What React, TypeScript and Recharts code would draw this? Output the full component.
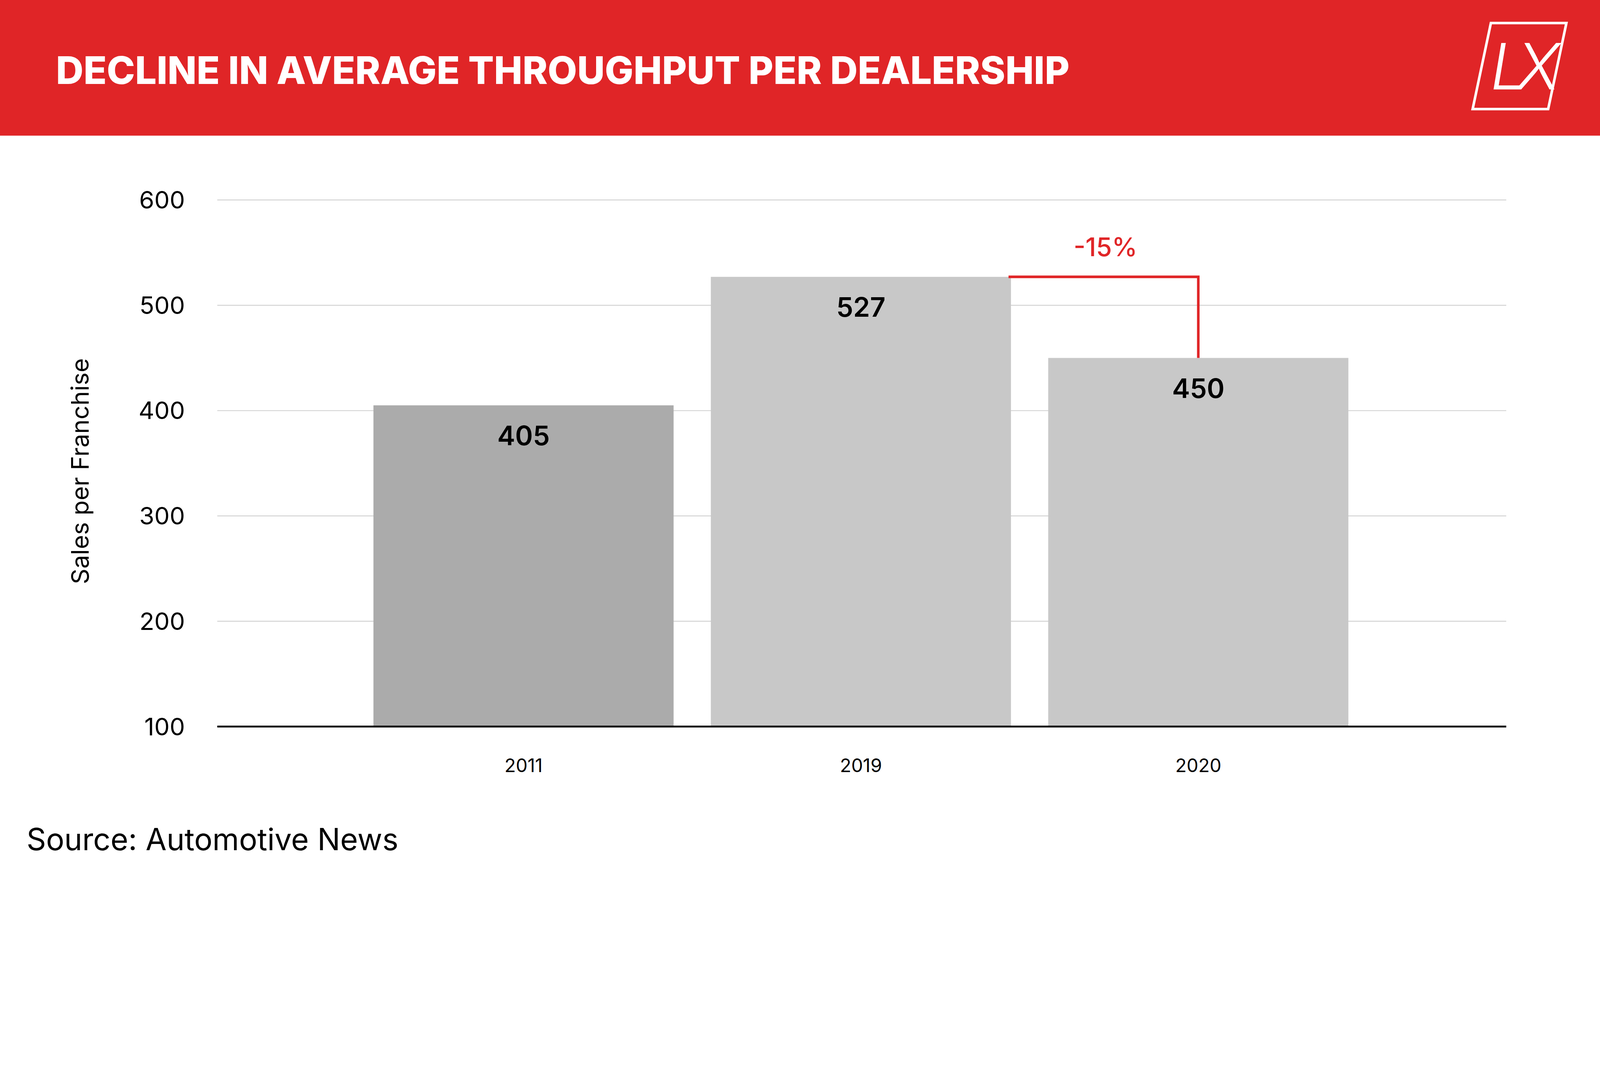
import { BarChart, Bar, XAxis, YAxis, CartesianGrid, Cell, LabelList } from 'recharts';

const years = ['2011', '2019', '2020'];
const sales = [405, 527, 450];
const barColors = ['#ababab', '#c8c8c8', '#c8c8c8'];
const yTicks = [100, 200, 300, 400, 500, 600];
const changeLabel = '-15%';

const data = years.map((year, i) => ({ year, sales: sales[i] }));
const RED = '#e02527';
const FONT = 'Inter, "Noto Sans", sans-serif';

function BarShape(props: any) {
  const { x, y, width, height, fill, index, value } = props;
  const rect = <rect x={x} y={y} width={width} height={height} fill={fill} />;
  if (index !== 2) return rect;
  // bracket from previous bar top (527) down to this bar top
  const perUnit = height / (value - 100);
  const yPrev = y - (sales[1] - value) * perUnit;
  const gap = 124;
  const cx = x + width / 2;
  return (
    <g>
      {rect}
      <polyline points={`${x - gap},${yPrev} ${cx},${yPrev} ${cx},${y}`} fill="none" stroke={RED} strokeWidth={8} />
      <text x={cx - 290} y={yPrev - 65} fill={RED} fontSize={80} fontFamily={FONT} fontWeight={500} textAnchor="middle">{changeLabel}</text>
    </g>
  );
}

export default function App() {
  const s = Math.min(1, window.innerWidth / 5000, window.innerHeight / 2727);
  return (
    <div style={{ position: 'fixed', left: 0, top: 0, width: 5000, height: 2727, background: '#fff', fontFamily: FONT, overflow: 'hidden', transform: `scale(${s})`, transformOrigin: '0 0' }}>
      <div style={{ position: 'absolute', left: 0, top: 0, width: 5000, height: 424, background: RED }} />
      <div style={{ position: 'absolute', left: 175, top: 160, color: '#fff', fontSize: 119, fontWeight: 800, lineHeight: 1, whiteSpace: 'nowrap' }}>
        DECLINE IN AVERAGE THROUGHPUT PER DEALERSHIP
      </div>
      <svg style={{ position: 'absolute', left: 0, top: 0 }} width={5000} height={424}>
        <polygon points="4659,72 4895,72 4838,341 4602,341" fill="none" stroke="#fff" strokeWidth={8} />
        <text x={4750} y={280} fill="#fff" fontSize={200} fontStyle="italic" fontFamily={FONT} fontWeight={300} textAnchor="middle" letterSpacing={-30}>LX</text>
      </svg>
      <BarChart width={5000} height={2727} data={data} margin={{ top: 625, right: 293, bottom: 0, left: 0 }} barCategoryGap="5.5%" style={{ position: 'absolute', left: 0, top: 0 }}>
        <CartesianGrid vertical={false} stroke="#d4d4d4" strokeWidth={3} />
        <XAxis dataKey="year" height={456} padding={{ left: 430, right: 435 }} axisLine={{ stroke: '#000', strokeWidth: 6 }} tickLine={false} tickMargin={95} tick={{ fill: '#000', fontSize: 58, fontFamily: FONT }} />
        <YAxis width={679} domain={[100, 600]} ticks={yTicks} axisLine={false} tickLine={false} tickMargin={95} tick={{ fill: '#000', fontSize: 76, fontFamily: FONT }} />
        <Bar dataKey="sales" isAnimationActive={false} shape={BarShape}>
          {data.map((_, i) => <Cell key={i} fill={barColors[i]} />)}
          <LabelList dataKey="sales" position="insideTop" offset={65} fill="#000" fontSize={84} fontWeight={600} fontFamily={FONT} />
        </Bar>
      </BarChart>
      <div style={{ position: 'absolute', left: 249, top: 1473, transform: 'translate(-50%,-50%) rotate(-90deg)', fontSize: 76, whiteSpace: 'nowrap', color: '#000' }}>
        Sales per Franchise
      </div>
      <div style={{ position: 'absolute', left: 83, top: 2565, fontSize: 95, color: '#000', whiteSpace: 'nowrap' }}>
        Source: Automotive News
      </div>
    </div>
  );
}
